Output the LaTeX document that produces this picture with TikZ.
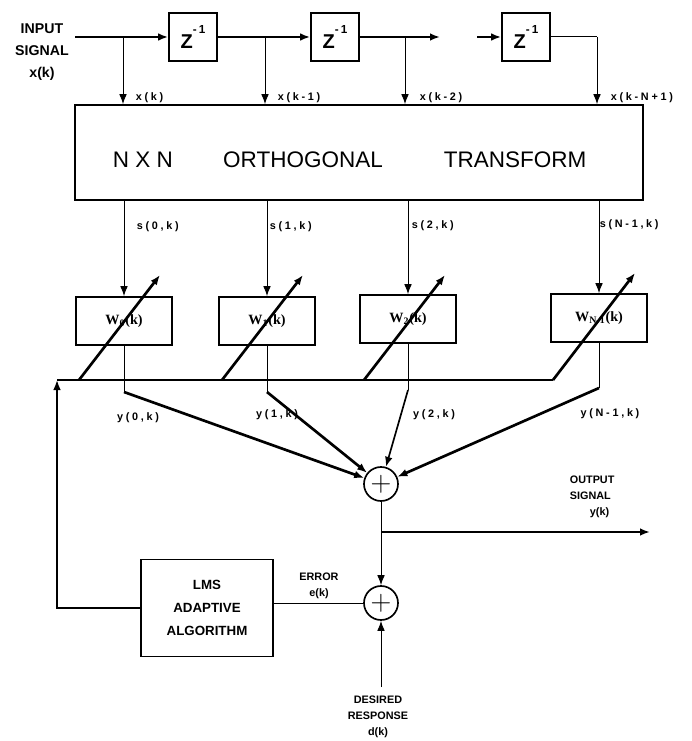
\documentclass[tikz,border=0pt]{standalone}
\usepackage{fontspec}
\setmainfont{Liberation Sans}
\newfontfamily\wfont{Liberation Serif}
\usetikzlibrary{arrows.meta, positioning, calc}
\newcommand{\zinv}{\fontsize{12}{12}\selectfont\bfseries Z\raisebox{9pt}{\fontsize{7}{7}\selectfont -\,1}}
\tikzset{
    box/.style={
        draw,
        line width=1pt,
        inner sep=0pt,
        align=center
    },
    zbox/.style={box, minimum width=28.8pt, minimum height=28.8pt},
    wbox/.style={box, minimum width=57.6pt, minimum height=28.8pt,
        font=\wfont\bfseries\fontsize{8.5}{9}\selectfont},
    sumnode/.style={draw, circle, line width=1pt, minimum size=20.4pt, inner sep=0pt,
        font=\fontsize{18}{18}\selectfont},
    line/.style={-{Latex[length=6pt,width=4.6pt]}, line width=1.6pt},
    thinline/.style={-{Latex[length=6pt,width=4.6pt]}, line width=0.6pt},
    plainline/.style={line width=1.6pt},
    plainthin/.style={line width=0.6pt},
    siglabel/.style={font=\bfseries\fontsize{6.5}{7}\selectfont\addfontfeature{LetterSpace=25}},
    caps/.style={font=\bfseries\fontsize{8.5}{13}\selectfont, align=center},
    smallcaps/.style={font=\bfseries\fontsize{6.5}{9.5}\selectfont, align=center},
    bigtext/.style={font=\fontsize{13.5}{14}\selectfont}
}
\begin{document}
\begin{tikzpicture}[x=0.6pt, y=-0.6pt]
\useasboundingbox (0,0) rectangle (691,741);

% delay line
\node[caps] (insig) at (42,52) {INPUT\\SIGNAL\\x(k)};
\node[zbox] (z1) at (193,37) {\zinv};
\node[zbox] (z2) at (335,37) {\zinv};
\node[zbox] (z3) at (526,37) {\zinv};
\coordinate (in) at (75,37);
\coordinate (gapl) at (440,37);
\coordinate (gapr) at (477,37);
\coordinate (tn) at (597,37);
\draw[line] (in) -- (z1);
\draw[line] (z1) -- (z2);
\draw[line] (z2) -- (gapl);
\draw[line] (gapr) -- (z3);
\draw[plainthin] (z3) -- (tn);

% transform
\node[box, minimum width=340.8pt, minimum height=57pt] (tr) at (359,152.5) {};
\node[bigtext] (nxn) at (143,160) {N X N};
\node[bigtext] (orth) at (303,160) {ORTHOGONAL};
\node[bigtext] (trans) at (515,160) {TRANSFORM};

% taps
\coordinate (t0) at (123,37);
\coordinate (t1) at (265,37);
\coordinate (t2) at (405,37);
\draw[thinline] (t0) -- (t0 |- tr.north);
\draw[thinline] (t1) -- (t1 |- tr.north);
\draw[thinline] (t2) -- (t2 |- tr.north);
\draw[thinline] (tn) -- (tn |- tr.north);
\node[siglabel, anchor=west] (lx0) at (130,98) {x(k)};
\node[siglabel, anchor=west] (lx1) at (272,98) {x(k-1)};
\node[siglabel, anchor=west] (lx2) at (414,98) {x(k-2)};
\node[siglabel, anchor=west] (lxn) at (605,98) {x(k-N+1)};

% weights
\node[wbox] (w0) at (124,321) {W\textsubscript{0}(k)};
\node[wbox] (w1) at (267,321) {W\textsubscript{1}(k)};
\node[wbox] (w2) at (408,319) {W\textsubscript{2}(k)};
\node[wbox] (w3) at (599,318) {W\textsubscript{N-1}(k)};
\draw[thinline] (tr.south -| w0) -- (w0);
\draw[thinline] (tr.south -| w1) -- (w1);
\draw[thinline] (tr.south -| w2) -- (w2);
\draw[thinline] (tr.south -| w3) -- (w3);
\node[siglabel, anchor=west] (ls0) at (131,227) {s(0,k)};
\node[siglabel, anchor=west] (ls1) at (264,227) {s(1,k)};
\node[siglabel, anchor=west] (ls2) at (406,226) {s(2,k)};
\node[siglabel, anchor=west] (ls3) at (594,225) {s(N-1,k)};

% update bus
\coordinate (busl) at (57,380);
\coordinate (busr) at (553,380);
\coordinate (a0) at (79,380);
\coordinate (a1) at (222,380);
\coordinate (a2) at (364,380);
\draw[plainline] (busl) -- (busr);
\draw[line] (a0) -- ++(81,-105);
\draw[line] (a1) -- ++(81,-105);
\draw[line] (a2) -- ++(81,-105);
\draw[line] (busr) -- ++(82,-107);

% outputs
\node[sumnode] (sum1) at (381,484) {$+$};
\coordinate (b0) at (124,392);
\coordinate (b1) at (267,392);
\coordinate (b2) at (408,390);
\coordinate (b3) at (599,388);
\draw[plainthin] (w0) -- (b0);
\draw[plainthin] (w1) -- (b1);
\draw[plainthin] (w2) -- (b2);
\draw[plainthin] (w3) -- (b3);
\draw[line] (b0) -- (sum1);
\draw[line] (b1) -- (sum1);
\draw[thinline, line width=1pt] (b2) -- (sum1);
\draw[line] (b3) -- (sum1);
\node[siglabel] (ly0) at (138,418) {y(0,k)};
\node[siglabel] (ly1) at (277,415) {y(1,k)};
\node[siglabel] (ly2) at (434,415) {y(2,k)};
\node[siglabel] (ly3) at (610,414) {y(N-1,k)};

% output and error
\node[sumnode] (sum2) at (381,603) {$+$};
\coordinate (jn) at (381,532);
\coordinate (out) at (650,532);
\draw[plainthin] (sum1) -- (jn);
\draw[line] (jn) -- (out);
\draw[thinline] (jn) -- (sum2);
\node[smallcaps, align=left, anchor=west] (outlab) at (564,497) {OUTPUT\\SIGNAL\\\hspace*{12pt}y(k)};

\node[box, minimum width=79.2pt, minimum height=58.2pt, font=\bfseries\fontsize{8}{14}\selectfont] (lms) at (207,608) {LMS\\ADAPTIVE\\ALGORITHM};
\draw[plainthin] (sum2) -- (sum2 -| lms.east);
\node[smallcaps] (err) at (319,586) {ERROR\\e(k)};

\coordinate (fb) at (57,608);
\draw[thinline, line width=1pt] (lms) -- (fb) -- (busl);

\coordinate (des) at (381,687);
\draw[thinline] (des) -- (sum2);
\node[smallcaps, anchor=north] (deslab) at (378,690) {DESIRED\\RESPONSE\\d(k)};
\end{tikzpicture}
\end{document}
